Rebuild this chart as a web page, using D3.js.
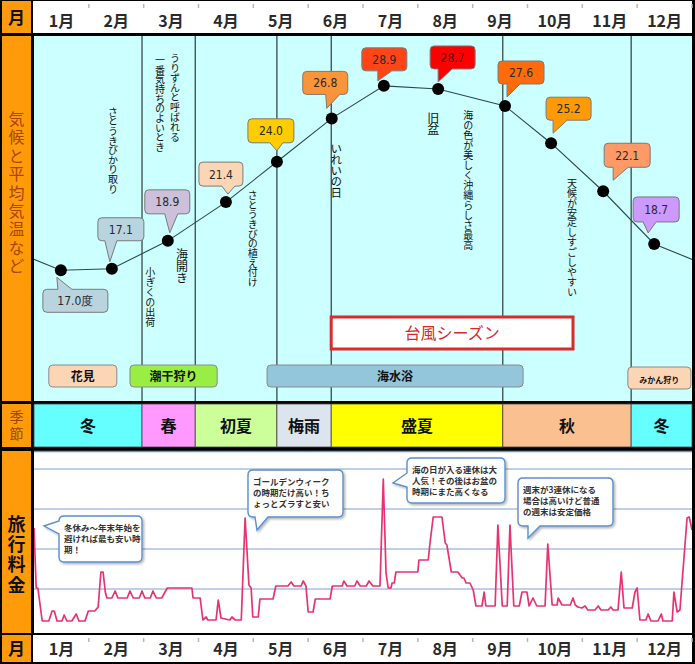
<!DOCTYPE html>
<html><head><meta charset="utf-8">
<script src="https://cdn.jsdelivr.net/npm/d3@7"></script>
<style>body{margin:0;background:#000} svg{display:block}</style>
</head><body>
<svg id="c" width="695" height="664"></svg>
<script>
// ---------- DATA ----------
const months = ["1月","2月","3月","4月","5月","6月","7月","8月","9月","10月","11月","12月"];
const tempValues = [17.0,17.1,18.9,21.4,24.0,26.8,28.9,28.7,27.6,25.2,22.1,18.7];
const tempLabels = ["17.0度","17.1","18.9","21.4","24.0","26.8","28.9","28.7","27.6","25.2","22.1","18.7"];
const tempMonthPos = [0.49,1.42,2.44,3.50,4.43,5.43,6.38,7.37,8.59,9.43,10.38,11.31];
const tempColors = ["#b9d3df","#b9d3df","#ccc0da","#fcd5b4","#ffcc00","#f99438","#ff4515","#ff0000","#ff6a0a","#ff9a05","#ff9a66","#cc99ff"];

const seasonNames = ["冬","春","初夏","梅雨","盛夏","秋","冬"];
const seasonBounds = [0,1.97,2.94,4.43,5.42,8.55,10.89,12];
const seasonColors = ["#66ffff","#ff99ff","#ccff99","#dce4ee","#ffff00","#fac090","#66ffff"];

const eventNames = ["花見","潮干狩り","海水浴","みかん狩り"];
const eventStart = [0.27,1.75,4.25,10.83];
const eventEnd = [1.51,3.34,8.92,11.98];
const eventColors = ["#fcd5b4","#99ee44","#93c6da","#fcd5b4"];

const typhoonName = "台風シーズン";
const typhoonStart = 5.42, typhoonEnd = 9.83;

const noteTexts = ["さとうきびかり取り","うりずんと呼ばれる","一番気持ちのよいとき","小ぎくの出荷","海開き",
  "さとうきびの植え付け","いれいの日","旧盆","海の色が美しく沖縄らしさ最高","天候が安定しすごしやすい"];
const noteMonthPos = [1.44,2.57,2.30,2.12,2.70,3.99,5.51,7.28,7.92,9.81];

// travel price index: [month position, relative price]
const travelPrice = [[0,50.5],[0.04,20.5],[0.07,20.5],[0.15,4],[0.27,4],[0.33,9],[0.37,9],[0.42,4],[0.51,4],[0.55,7],
 [0.6,4],[0.69,4],[0.77,7.5],[0.82,4],[0.93,4],[0.99,9],[1.11,9],[1.17,11],[1.22,28.5],[1.26,28.5],
 [1.3,18.5],[1.33,15.5],[1.42,15.5],[1.48,19],[1.53,15.5],[1.7,15.5],[1.75,19],[1.81,15.5],[1.92,15.5],[1.97,19],
 [2.02,15.5],[2.12,15.5],[2.17,19],[2.23,15.5],[2.33,15.5],[2.43,20.5],[2.88,20.5],[2.9,15.5],[3.03,15.5],[3.08,4.5],
 [3.14,6],[3.17,4.5],[3.32,4.5],[3.36,14.5],[3.41,5.5],[3.57,4.5],[3.61,6],[3.67,4.5],[3.78,4.5],[3.85,55.5],
 [3.92,22],[3.96,20.5],[3.99,6],[4.09,6],[4.12,15],[4.36,15],[4.41,21.5],[4.63,21.5],[4.69,23.5],[4.74,21.5],
 [4.87,21.5],[4.91,24],[4.96,21.5],[5.0,8.5],[5.09,8.5],[5.13,15],[5.4,15],[5.44,21.5],[5.62,21.5],[5.65,24],
 [5.71,21.5],[5.85,21.5],[5.89,24],[5.95,21.5],[6.06,21.5],[6.11,24],[6.18,21.5],[6.31,21.5],[6.37,75],[6.42,28],
 [6.46,20.5],[6.51,20.5],[6.53,23],[6.57,23],[6.6,28.5],[7.0,28.5],[7.02,34.5],[7.19,34.5],[7.22,42.5],[7.28,56],
 [7.44,56],[7.5,43],[7.53,42],[7.61,28.5],[7.73,28.5],[7.81,25.5],[7.84,25.5],[7.88,23],[7.95,23],[8.01,19.5],
 [8.06,11.5],[8.17,11.5],[8.21,18.5],[8.24,11.5],[8.41,11.5],[8.46,52],[8.54,11.5],[8.63,11.5],[8.68,52],[8.75,11.5],
 [8.85,11.5],[8.9,18.5],[8.99,18.5],[9.03,11.5],[9.1,15.5],[9.17,11.5],[9.32,11.5],[9.37,42.5],[9.45,12],[9.54,12],
 [9.56,15.5],[9.63,12],[9.78,12],[9.83,15.5],[9.87,12],[9.92,11],[9.99,10.5],[10.05,11.5],[10.1,9.5],[10.23,9.5],
 [10.29,11.5],[10.34,9.5],[10.47,9.5],[10.52,11],[10.56,9.5],[10.65,9.5],[10.71,28.5],[10.76,10.5],[10.91,10.5],[10.96,18.5],
 [11.0,20.5],[11.05,4.5],[11.16,4.5],[11.2,7.5],[11.25,4],[11.38,4],[11.44,7.5],[11.47,4],[11.64,4],[11.67,18.5],
 [11.73,8.5],[11.78,9.5],[11.91,55.5],[11.95,56],[12,49.5]];
const priceGrid = [20,40,60,80];

const priceComments = [
  ["冬休み〜年末年始を","避ければ最も安い時","期！"],
  ["ゴールデンウィーク","の時期だけ高い！ち","ょっとズラすと安い"],
  ["海の日が入る連休は大","人気！その後はお盆の","時期にまた高くなる"],
  ["週末が3連休になる","場合は高いけど普通","の週末は安定価格"]
];

// ---------- LAYOUT ----------
const ORANGE = "#ff9a0a";
const JP = "'Noto Sans CJK JP','Noto Sans',sans-serif";
const NARROW = "'Liberation Sans Narrow','DejaVu Sans Condensed','Liberation Sans',sans-serif";
const X0 = 34, X1 = 692;
const rowHeader=[1,33], rowUpper=[36,401], rowSeason=[404,447], rowPrice=[451,633], rowFooter=[635,662];

// note layout: [top y, font size, step per char]
const noteLayout = [[107,10,9.6],[53,10,9.9],[55,10,9.7],[267,10,10],[248,12,12.3],
  [190,10,9.7],[143,11.5,11],[112,12,11.5],[110,10,10],[178,10,9.9]];
// callout layout relative to point: [dx, dy, w, h, side, a, b, tipdx, tipdy]
const calloutLayout = [
 [-18,19,65,23,'top',-3,11,-4,7],[-14,-51,46,23,'bottom',-7,5,-2,-7],[-23,-51,45,24,'bottom',-3,10,2,-8],
 [-27,-40,44,24,'bottom',-4,9,2,-8],[-29,-43,46,24,'bottom',-7,6,0,-11],[-29,-47,45,23,'bottom',-6,8,-5,-10],
 [-22,-38,45,23,'bottom',-6,8,-6,-5],[-8,-43,45,23,'bottom',0,14,0,-7],[-7,-45,46,23,'bottom',2,15,2,-9],
 [-5,-46,45,23,'bottom',2,16,2,-10],[1,-48,46,24,'bottom',10,25,10,-11],[-21,-47,46,25,'bottom',-11,2,-6,-11]];
// price comment boxes: [x,y,w,h,side,a,b,tipx,tipy]
const commentLayout = [
 [59,516,83,46,'left',521,534,44,526],[248,470,95,47,'bottom',255,268,257,530],
 [407,458,98,45,'left',473,487,393,483],[518,478,95,48,'bottom',528,540,528,538]];

// ---------- SCALES ----------
const x = d3.scaleLinear().domain([0,12]).range([X0,X1]);
const yT = d3.scaleLinear().domain([17,29]).range([270.3,84.3]);
const yP = d3.scaleLinear().domain([0,90]).range([629,449]);

const svg = d3.select("#c");
const defs = svg.append("defs");
defs.append("clipPath").attr("id","clipUpper").append("rect")
  .attr("x",X0).attr("y",rowUpper[0]).attr("width",X1-X0).attr("height",rowUpper[1]-rowUpper[0]);
defs.append("clipPath").attr("id","clipPrice").append("rect")
  .attr("x",X0).attr("y",rowPrice[0]).attr("width",X1-X0).attr("height",rowPrice[1]-rowPrice[0]);
const sh = defs.append("filter").attr("id","shadow").attr("x","-20%").attr("y","-20%").attr("width","150%").attr("height","150%");
sh.append("feDropShadow").attr("dx",1.5).attr("dy",1.5).attr("stdDeviation",1).attr("flood-color","#000").attr("flood-opacity",0.3);

svg.append("rect").attr("width",695).attr("height",664).attr("fill","#000");

function bubblePath(bx,by,w,h,r,side,a,b,tx,ty){
  const p = d3.path();
  p.moveTo(bx+r,by);
  if(side==='top'){p.lineTo(a,by);p.lineTo(tx,ty);p.lineTo(b,by);}
  p.lineTo(bx+w-r,by); p.quadraticCurveTo(bx+w,by,bx+w,by+r);
  p.lineTo(bx+w,by+h-r); p.quadraticCurveTo(bx+w,by+h,bx+w-r,by+h);
  if(side==='bottom'){p.lineTo(b,by+h);p.lineTo(tx,ty);p.lineTo(a,by+h);}
  p.lineTo(bx+r,by+h); p.quadraticCurveTo(bx,by+h,bx,by+h-r);
  if(side==='left'){p.lineTo(bx,b);p.lineTo(tx,ty);p.lineTo(bx,a);}
  p.lineTo(bx,by+r); p.quadraticCurveTo(bx,by,bx+r,by);
  p.closePath();
  return p.toString();
}

// ---------- LEFT COLUMN ----------
[rowHeader,rowUpper,rowSeason,rowPrice,rowFooter].forEach(r=>{
  svg.append("rect").attr("x",2).attr("y",r[0]).attr("width",29).attr("height",r[1]-r[0]).attr("fill",ORANGE);
});
function vText(g,str,cx,top,size,step,color,weight){
  return g.append("text").attr("x",cx).attr("y",top)
    .style("writing-mode","vertical-rl")
    .attr("font-family",JP).attr("font-size",size).attr("font-weight",weight||400)
    .attr("letter-spacing",step-size).attr("fill",color).text(str);
}
svg.append("text").attr("x",16.5).attr("y",23.5).attr("text-anchor","middle").attr("font-family",JP)
  .attr("font-size",17).attr("font-weight",700).attr("fill","#111").text("月");
svg.append("text").attr("x",16.5).attr("y",655).attr("text-anchor","middle").attr("font-family",JP)
  .attr("font-size",17).attr("font-weight",700).attr("fill","#111").text("月");
vText(svg,"気候と平均気温など",16.5,111,16,18.4,"#a84800",400);
vText(svg,"季節",16.5,410,14,17,"#9a4600",400);
vText(svg,"旅行料金",16.5,515,18,20.3,"#111",700);

// ---------- HEADER / FOOTER ----------
[rowHeader,rowFooter].forEach((r,k)=>{
  svg.append("rect").attr("x",X0-1).attr("y",r[0]).attr("width",X1-X0+1).attr("height",r[1]-r[0]).attr("fill","#fff");
  const g = svg.append("g");
  g.selectAll("line").data(d3.range(1,13)).join("line")
    .attr("x1",d=>x(d)).attr("x2",d=>x(d)).attr("y1",r[0]+3).attr("y2",r[0]+7)
    .attr("stroke","#b8b8b8").attr("stroke-width",1.5);
  g.selectAll("text").data(months).join("text")
    .attr("x",(d,i)=>x(i+0.5)).attr("y",k===0?27:655)
    .attr("text-anchor","middle").attr("font-family",JP).attr("font-size",16).attr("font-weight",700)
    .attr("fill","#2a2a2a").text(d=>d);
});

// ---------- UPPER PANEL ----------
svg.append("rect").attr("x",X0).attr("y",rowUpper[0]).attr("width",X1-X0).attr("height",rowUpper[1]-rowUpper[0]).attr("fill","#ccffff");
const up = svg.append("g");
up.selectAll("line.sb").data(seasonBounds.slice(1,-1)).join("line").attr("class","sb")
  .attr("x1",d=>x(d)).attr("x2",d=>x(d)).attr("y1",rowUpper[0]).attr("y2",rowUpper[1])
  .attr("stroke","#111").attr("stroke-width",1);

// notes
noteTexts.forEach((t,i)=>{
  const L = noteLayout[i];
  vText(up,t,x(noteMonthPos[i]),L[0],L[1],L[2],"#111",400);
});

// temperature line (wraps around the year)
const tempPts = tempValues.map((v,i)=>[tempMonthPos[i],v]);
const wrapPts = [[tempMonthPos[11]-12,tempValues[11]],...tempPts,[tempMonthPos[0]+12,tempValues[0]]];
up.append("path").attr("clip-path","url(#clipUpper)")
  .attr("d",d3.line().x(d=>x(d[0])).y(d=>yT(d[1]))(wrapPts))
  .attr("fill","none").attr("stroke","#2c4a4a").attr("stroke-width",1.1);
up.selectAll("circle").data(tempPts).join("circle")
  .attr("cx",d=>x(d[0])).attr("cy",d=>yT(d[1])).attr("r",6).attr("fill","#000");

// typhoon season
up.append("rect").attr("x",x(typhoonStart)).attr("y",317).attr("width",x(typhoonEnd)-x(typhoonStart)).attr("height",32)
  .attr("fill","#fff").attr("stroke","#d92b2b").attr("stroke-width",3);
up.append("text").attr("x",(x(typhoonStart)+x(typhoonEnd))/2).attr("y",339).attr("text-anchor","middle")
  .attr("font-family",JP).attr("font-size",16).attr("fill","#d42a2a").text(typhoonName);

// events
eventNames.forEach((n,i)=>{
  const y0 = i===3?367:365, h = 22;
  up.append("rect").attr("x",x(eventStart[i])).attr("y",y0).attr("width",x(eventEnd[i])-x(eventStart[i])).attr("height",h)
    .attr("rx",4).attr("fill",eventColors[i]).attr("stroke","#8a8a8a").attr("stroke-width",1);
  up.append("text").attr("x",(x(eventStart[i])+x(eventEnd[i]))/2).attr("y",y0+h/2+4.5).attr("text-anchor","middle")
    .attr("font-family",JP).attr("font-size",i===3?8:12).attr("font-weight",700).attr("fill","#111").text(n);
});

// temperature callouts
tempPts.forEach((d,i)=>{
  const L = calloutLayout[i];
  const px = x(d[0]), py = yT(d[1]);
  const bx = px+L[0], by = py+L[1];
  up.append("path").attr("d",bubblePath(bx,by,L[2],L[3],4,L[4],px+L[5],px+L[6],px+L[7],py+L[8]))
    .attr("fill",tempColors[i]).attr("stroke","#7a7a7a").attr("stroke-width",1);
  up.append("text").attr("x",bx+L[2]/2).attr("y",by+L[3]/2+4.5).attr("text-anchor","middle")
    .attr("font-family",NARROW).attr("font-size",12).attr("fill",i===7?"#4a1010":"#2a2a2a").text(tempLabels[i]);
});

// ---------- SEASON ROW ----------
const sg = svg.append("g");
seasonNames.forEach((n,i)=>{
  const a = x(seasonBounds[i]), b = x(seasonBounds[i+1]);
  sg.append("rect").attr("x",a).attr("y",rowSeason[0]).attr("width",b-a).attr("height",rowSeason[1]-rowSeason[0])
    .attr("fill",seasonColors[i]).attr("stroke","#444").attr("stroke-width",0.8);
  sg.append("text").attr("x",(a+b)/2).attr("y",(rowSeason[0]+rowSeason[1])/2+6).attr("text-anchor","middle")
    .attr("font-family",JP).attr("font-size",16).attr("font-weight",700).attr("fill","#111").text(n);
});

// ---------- PRICE PANEL ----------
svg.append("rect").attr("x",X0).attr("y",rowPrice[0]).attr("width",X1-X0).attr("height",rowPrice[1]-rowPrice[0])
  .attr("fill","#fff");
svg.append("line").attr("x1",X0).attr("x2",X1).attr("y1",rowPrice[0]+0.5).attr("y2",rowPrice[0]+0.5)
  .attr("stroke","#6d93c8").attr("stroke-width",1.5);
const pg = svg.append("g").attr("clip-path","url(#clipPrice)");
pg.selectAll("line").data(priceGrid).join("line")
  .attr("x1",X0).attr("x2",X1).attr("y1",d=>yP(d)).attr("y2",d=>yP(d))
  .attr("stroke","#a9bfe2").attr("stroke-width",1.6);
pg.append("path").attr("d",d3.line().x(d=>x(d[0])).y(d=>yP(d[1]))(travelPrice))
  .attr("fill","none").attr("stroke","#e8336e").attr("stroke-width",1.7).attr("stroke-linejoin","round");

priceComments.forEach((lines,i)=>{
  const L = commentLayout[i];
  svg.append("path").attr("d",bubblePath(L[0],L[1],L[2],L[3],5,L[4],L[5],L[6],L[7],L[8]))
    .attr("fill","#fff").attr("stroke","#5a8fd2").attr("stroke-width",1.4).attr("filter","url(#shadow)");
  const t = svg.append("text").attr("font-family",JP).attr("font-size",8.5).attr("font-weight",700).attr("fill","#333");
  lines.forEach((ln,j)=>{
    t.append("tspan").attr("x",L[0]+5).attr("y",L[1]+15+j*11.2).text(ln);
  });
});
</script>
</body></html>
